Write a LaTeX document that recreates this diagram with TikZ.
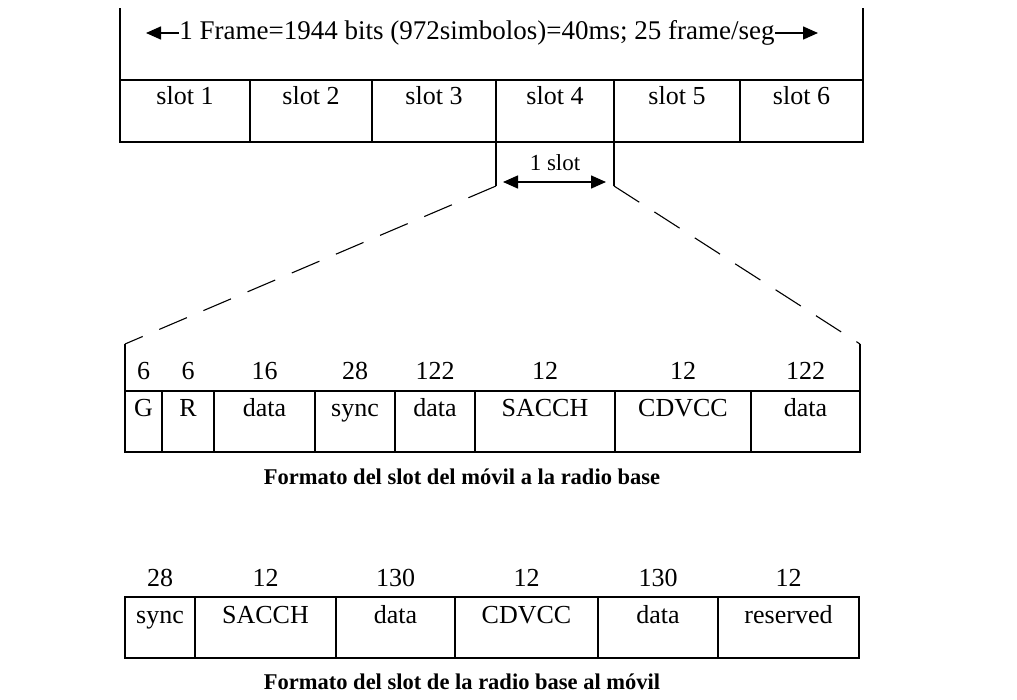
\documentclass[tikz,border=0pt]{standalone}
\usepackage{fontspec}
\setmainfont{Liberation Serif}
\usetikzlibrary{arrows.meta, positioning}

\begin{document}
\begin{tikzpicture}[x=1pt, y=-1pt, line width=1.5pt,
    >={Triangle[length=15pt, width=13pt]},
    celda/.style={font=\fontsize{26}{30}\selectfont, text height=18pt, text depth=5pt, inner sep=0pt},
    bits/.style={celda},
    titulo/.style={font=\fontsize{22.5}{26}\selectfont\bfseries, inner sep=0pt}]
    \useasboundingbox (0,0) rectangle (1017,699);

    % trama
    \draw (120,8) -- (120,142) -- (863,142) -- (863,8);
    \draw (120,80) -- (863,80);
    \node[font=\fontsize{27}{30}\selectfont, text height=19pt, text depth=6pt, inner sep=0pt] (trama) at (477,33) {1 Frame=1944 bits (972simbolos)=40ms; 25 frame/seg};
    \coordinate (tl) at (146,33);
    \coordinate (tr) at (818,33);
    \draw[->] (trama.west) -- (tl);
    \draw[->] (trama.east) -- (tr);

    % slots
    \foreach \xa/\xb/\n in {120/250/1, 250/372/2, 372/496/3, 496/614/4, 614/740/5, 740/863/6} {
        \draw (\xb,80) -- (\xb,142);
        \node[celda] (slot\n) at ({(\xa+\xb)/2},98) {slot \n};
    }

    % 1 slot
    \coordinate (c4a) at (496,142);
    \coordinate (c4b) at (614,142);
    \coordinate (q1) at (496,186);
    \coordinate (q2) at (614,186);
    \draw (c4a) -- (q1);
    \draw (c4b) -- (q2);
    \coordinate (sa) at (503,182);
    \coordinate (sb) at (606,182);
    \draw[<->] (sa) -- (sb);
    \node[font=\fontsize{23}{26}\selectfont, inner sep=0pt] (unslot) at (555,163) {1 slot};

    % ampliacion
    \coordinate (e1) at (125,344);
    \coordinate (e2) at (860,344);
    \draw[line width=1.1pt, dash pattern=on 30pt off 18pt] (q1) -- (e1);
    \draw[line width=1.1pt, dash pattern=on 30pt off 18pt] (q2) -- (e2);

    % movil -> radio base
    \draw (e1) -- (125,452) -- (860,452) -- (e2);
    \draw (125,391) -- (860,391);
    \foreach \xa/\xb/\nb/\tx [count=\i] in {125/162/6/G, 162/214/6/R, 214/315/16/data, 315/395/28/sync, 395/475/122/data, 475/615/12/SACCH, 615/751/12/CDVCC, 751/860/122/data} {
        \draw (\xb,391) -- (\xb,452);
        \node[bits] (mb\i) at ({(\xa+\xb)/2},373) {\nb};
        \node[celda] (mc\i) at ({(\xa+\xb)/2},410) {\tx};
    }
    \node[titulo] (cap1) at (462,477) {Formato del slot del móvil a la radio base};

    % radio base -> movil
    \draw (125,597) rectangle (859,658);
    \foreach \xa/\xb/\nb/\tx [count=\i] in {125/195/28/sync, 195/336/12/SACCH, 336/455/130/data, 455/598/12/CDVCC, 598/718/130/data, 718/859/12/reserved} {
        \draw (\xb,597) -- (\xb,658);
        \node[bits] (rb\i) at ({(\xa+\xb)/2},580) {\nb};
        \node[celda] (rc\i) at ({(\xa+\xb)/2},617) {\tx};
    }
    \node[titulo] (cap2) at (462,682) {Formato del slot de la radio base al móvil};
\end{tikzpicture}
\end{document}
